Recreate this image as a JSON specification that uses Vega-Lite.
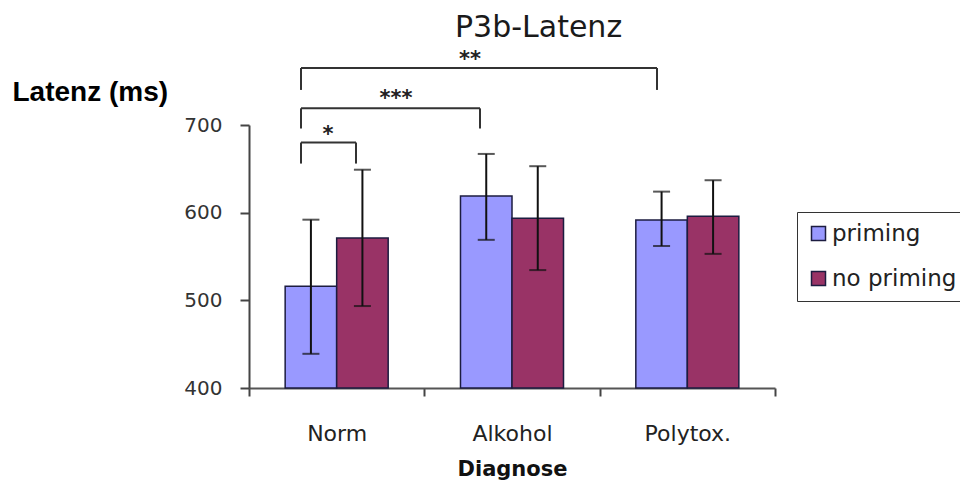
{
  "$schema": "https://vega.github.io/schema/vega-lite/v6.json",
  "autosize": {"type": "none"},
  "padding": {"left": 249, "top": 125, "right": 185, "bottom": 105},
  "width": 526,
  "height": 263,
  "background": "white",
  "title": {
    "text": "P3b-Latenz",
    "font": "DejaVu Sans",
    "fontSize": 30,
    "fontWeight": "normal",
    "color": "#1a1a1a",
    "anchor": "start",
    "frame": "group",
    "dx": 206,
    "dy": -6,
    "offset": 0
  },
  "datasets": {
    "bars": [
      {"Diagnose": "Norm", "Bedingung": "priming", "Latenz": 516, "lo": 439, "hi": 592},
      {"Diagnose": "Norm", "Bedingung": "no priming", "Latenz": 571, "lo": 493.5, "hi": 649},
      {"Diagnose": "Alkohol", "Bedingung": "priming", "Latenz": 619, "lo": 569, "hi": 667},
      {"Diagnose": "Alkohol", "Bedingung": "no priming", "Latenz": 593.5, "lo": 534.5, "hi": 653},
      {"Diagnose": "Polytox.", "Bedingung": "priming", "Latenz": 591.5, "lo": 562, "hi": 624},
      {"Diagnose": "Polytox.", "Bedingung": "no priming", "Latenz": 596, "lo": 553, "hi": 637}
    ],
    "brackets": [
      {"x": 0.2966, "x2": 0.6103, "y": 680, "y2": 680},
      {"x": 0.2966, "x2": 0.2966, "y": 680, "y2": 656},
      {"x": 0.6103, "x2": 0.6103, "y": 680, "y2": 656},
      {"x": 0.2966, "x2": 1.3175, "y": 719, "y2": 719},
      {"x": 0.2966, "x2": 0.2966, "y": 719, "y2": 696},
      {"x": 1.3175, "x2": 1.3175, "y": 719, "y2": 696},
      {"x": 0.2966, "x2": 2.327, "y": 765, "y2": 765},
      {"x": 0.2966, "x2": 0.2966, "y": 765, "y2": 740},
      {"x": 2.327, "x2": 2.327, "y": 765, "y2": 740}
    ],
    "stars": [
      {"label": "*", "x": 0.4506, "y": 682},
      {"label": "***", "x": 0.838, "y": 722.5},
      {"label": "**", "x": 1.2605, "y": 767}
    ]
  },
  "resolve": {"scale": {"x": "independent"}, "axis": {"x": "independent"}},
  "layer": [
    {
      "data": {"name": "bars"},
      "encoding": {
        "x": {
          "field": "Diagnose",
          "type": "nominal",
          "sort": ["Norm", "Alkohol", "Polytox."],
          "scale": {"paddingInner": 0, "paddingOuter": 0},
          "axis": {
            "title": "Diagnose",
            "titleFont": "DejaVu Sans",
            "titleFontSize": 21,
            "titleFontWeight": "bold",
            "titleColor": "#111",
            "titleBaseline": "alphabetic",
            "titleY": 87,
            "titleX": 263,
            "labelAngle": 0,
            "labelFont": "DejaVu Sans",
            "labelFontSize": 22,
            "labelColor": "#222",
            "labelPadding": 27,
            "tickBand": "extent",
            "tickExtra": true,
            "tickSize": 8,
            "tickWidth": 2,
            "tickColor": "#444",
            "domainColor": "#555",
            "domainWidth": 2
          }
        },
        "xOffset": {
          "field": "Bedingung",
          "type": "nominal",
          "sort": ["priming", "no priming"],
          "scale": {"paddingInner": 0, "paddingOuter": 0.702}
        },
        "y": {
          "type": "quantitative",
          "scale": {"domain": [400, 700], "nice": false, "zero": false},
          "axis": {
            "title": "Latenz (ms)",
            "titleFont": "Liberation Sans",
            "titleFontSize": 28,
            "titleFontWeight": "bold",
            "titleColor": "#000",
            "titleAngle": 0,
            "titleAlign": "left",
            "titleBaseline": "alphabetic",
            "titleX": -237,
            "titleY": -25,
            "values": [400, 500, 600, 700],
            "labelFont": "DejaVu Sans",
            "labelFontSize": 20,
            "labelColor": "#333",
            "labelPadding": 18,
            "tickSize": 9,
            "tickWidth": 2,
            "tickColor": "#444",
            "domainColor": "#444",
            "domainWidth": 2,
            "grid": false
          }
        }
      },
      "layer": [
        {
          "mark": {"type": "bar", "stroke": "#1c1c40", "strokeWidth": 1.5},
          "encoding": {
            "y": {"field": "Latenz"},
            "y2": {"datum": 400},
            "color": {
              "field": "Bedingung",
              "type": "nominal",
              "sort": ["priming", "no priming"],
              "scale": {"domain": ["priming", "no priming"], "range": ["#9999FF", "#993366"]},
              "legend": {
                "title": null,
                "orient": "none",
                "legendX": 548,
                "legendY": 87,
                "strokeColor": "#333",
                "padding": 10,
                "symbolType": "square",
                "symbolSize": 196,
                "symbolStrokeColor": "#1c1c40",
                "symbolStrokeWidth": 1.5,
                "labelFont": "DejaVu Sans",
                "labelFontSize": 23,
                "labelColor": "#222",
                "labelOffset": 2,
                "rowPadding": 21,
                "labelLimit": 400
              }
            }
          }
        },
        {
          "mark": {"type": "rule", "color": "#111", "strokeWidth": 2},
          "encoding": {"y": {"field": "lo"}, "y2": {"field": "hi"}}
        },
        {
          "mark": {"type": "tick", "color": "#111", "orient": "horizontal", "size": 17, "thickness": 2},
          "encoding": {"y": {"field": "hi"}}
        },
        {
          "mark": {"type": "tick", "color": "#111", "orient": "horizontal", "size": 17, "thickness": 2},
          "encoding": {"y": {"field": "lo"}}
        }
      ]
    },
    {
      "data": {"name": "brackets"},
      "mark": {"type": "rule", "color": "#333", "strokeWidth": 2},
      "encoding": {
        "x": {"field": "x", "type": "quantitative", "scale": {"domain": [0, 3], "nice": false, "zero": false}, "axis": null},
        "x2": {"field": "x2"},
        "y": {"field": "y", "type": "quantitative"},
        "y2": {"field": "y2"}
      }
    },
    {
      "data": {"name": "stars"},
      "mark": {"type": "text", "font": "DejaVu Sans", "fontSize": 21, "fontWeight": "bold", "color": "#222", "baseline": "alphabetic", "align": "center"},
      "encoding": {
        "x": {"field": "x", "type": "quantitative", "scale": {"domain": [0, 3], "nice": false, "zero": false}, "axis": null},
        "y": {"field": "y", "type": "quantitative"},
        "text": {"field": "label"}
      }
    }
  ],
  "config": {"view": {"stroke": null}}
}
